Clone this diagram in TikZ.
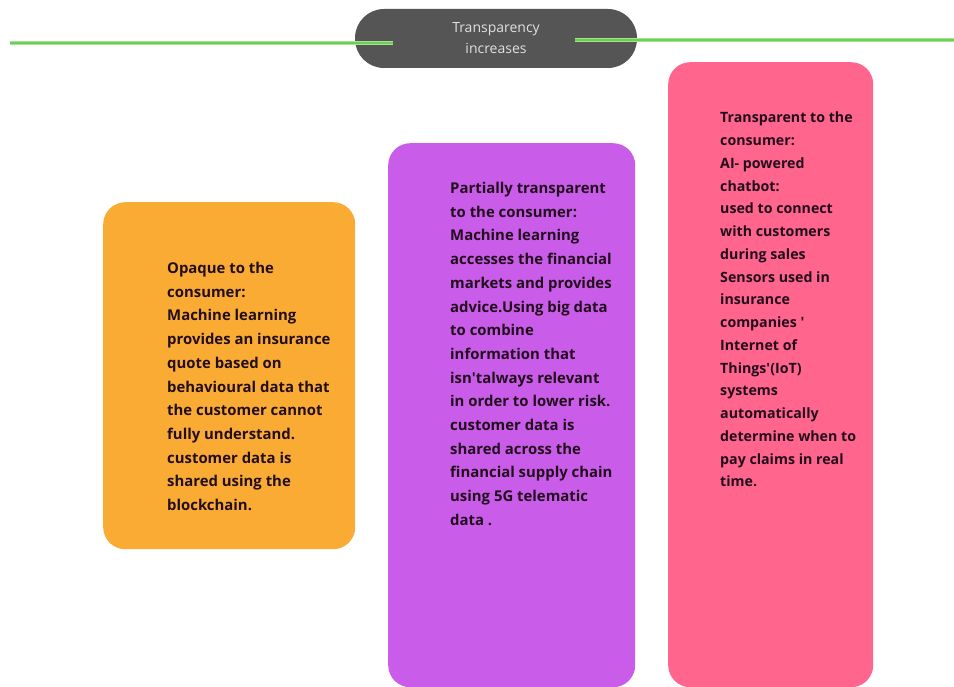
\documentclass[tikz,border=0pt]{standalone}
\usepackage{fontspec}
\setmainfont{Open Sans}
\usetikzlibrary{positioning}

\definecolor{cardorange}{RGB}{250,171,52}
\definecolor{cardpurple}{RGB}{201,92,232}
\definecolor{cardpink}{RGB}{255,101,141}
\definecolor{pillgray}{RGB}{85,85,85}
\definecolor{linegreen}{RGB}{160,230,140}
\definecolor{linecore}{RGB}{110,205,90}
\definecolor{inkdark}{RGB}{34,14,28}

\newcommand{\apos}{\textquotesingle}

\begin{document}
\begin{tikzpicture}[
    x=1pt, y=-1pt,
    card/.style={rectangle, rounded corners=22pt, inner sep=0pt, anchor=north west},
    cardtext/.style={anchor=north west, inner sep=0pt, align=left, text=inkdark,
        font=\fontsize{14.9}{23.7}\selectfont\bfseries},
    pill/.style={rectangle, rounded corners=29pt, fill=pillgray, minimum width=282pt,
        minimum height=59pt, align=center, text=white!88!black,
        font=\fontsize{14}{21}\selectfont},
    greenline/.style={line width=3.4pt, draw=linegreen,
        postaction={draw=linecore, line width=1.2pt}}
]
\useasboundingbox (0,0) rectangle (954,687);

\node[pill] (scale) at (496,38.5) {Transparency\\increases};

\coordinate (leftend) at (10,43);
\coordinate (leftin) at (393,43);
\coordinate (rightin) at (575,40);
\coordinate (rightend) at (954,40);
\draw[greenline] (leftend) -- (leftin);
\draw[greenline] (rightin) -- (rightend);

\node[card, fill=cardorange, minimum width=252pt, minimum height=347pt] (opaque) at (103,202) {};
\node[card, fill=cardpurple, minimum width=247pt, minimum height=544pt] (partial) at (388,143) {};
\node[card, fill=cardpink, minimum width=205pt, minimum height=625pt] (transparent) at (668,62) {};

\node[cardtext] (opaquetxt) at (167,262) {Opaque to the\\consumer:\\Machine learning\\provides an insurance\\quote based on\\behavioural data that\\the customer cannot\\fully understand.\\customer data is\\shared using the\\blockchain.};

\node[cardtext] (partialtxt) at (450,182) {Partially transparent\\to the consumer:\\Machine learning\\accesses the financial\\markets and provides\\advice.Using big data\\to combine\\information that\\isn\apos talways relevant\\in order to lower risk.\\customer data is\\shared across the\\financial supply chain\\using 5G telematic\\data .};

\node[cardtext, font=\fontsize{14.2}{22.75}\selectfont\bfseries] (transparenttxt) at (720,112) {Transparent to the\\consumer:\\AI- powered\\chatbot:\\used to connect\\with customers\\during sales\\Sensors used in\\insurance\\companies \apos\\Internet of\\Things\apos(IoT)\\systems\\automatically\\determine when to\\pay claims in real\\time.};

\end{tikzpicture}
\end{document}
